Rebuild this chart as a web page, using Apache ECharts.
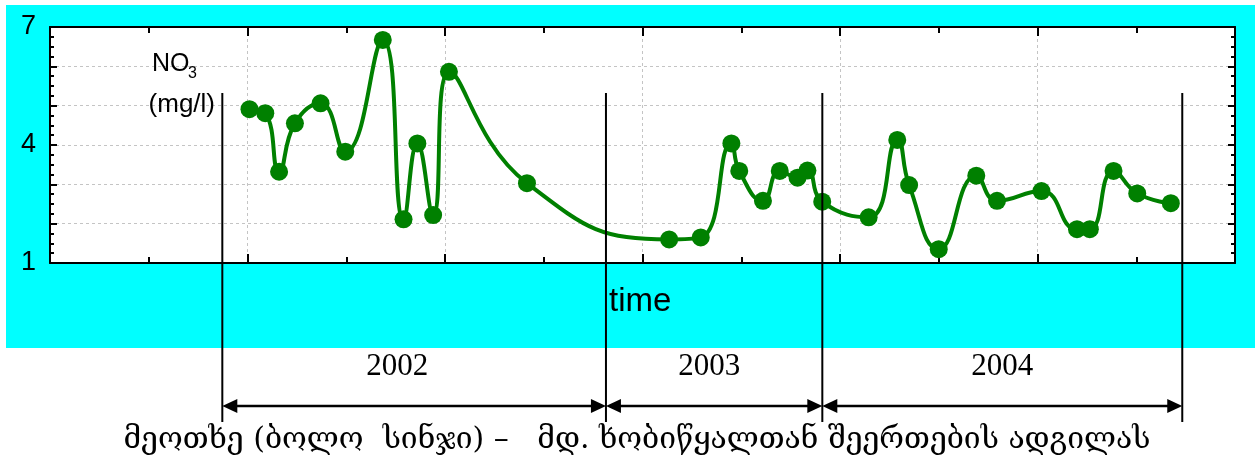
<!DOCTYPE html>
<html>
<head>
<meta charset="utf-8">
<script src="https://cdn.jsdelivr.net/npm/echarts@6.0.0/dist/echarts.min.js"></script>
<style>
html, body { margin: 0; padding: 0; background: #fff; }
#wrap { position: relative; width: 1259px; height: 463px; }
#bg { position: absolute; left: 6px; top: 5px; width: 1249px; height: 343px; background: #00ffff; }
#main { position: absolute; left: 0; top: 0; width: 1259px; height: 463px; }
</style>
</head>
<body>
<div id="wrap"><div id="bg"></div><div id="main"></div></div>
<script>
// sampling time (axis units 0..12) and NO3 concentration, mg/l
const sampleTime = [2.02, 2.18, 2.32, 2.48, 2.74, 2.99, 3.37, 3.58, 3.72, 3.88, 4.04, 4.83,
  6.27, 6.59, 6.90, 6.98, 7.22, 7.39, 7.57, 7.67, 7.82,
  8.29, 8.58, 8.70, 9.00, 9.38, 9.59, 10.04, 10.40, 10.53, 10.77, 11.01, 11.35];
const no3 = [4.91, 4.81, 3.32, 4.55, 5.06, 3.83, 6.67, 2.11, 4.04, 2.22, 5.86, 3.03,
  1.60, 1.65, 4.04, 3.34, 2.58, 3.34, 3.17, 3.35, 2.56,
  2.16, 4.13, 2.98, 1.35, 3.22, 2.58, 2.83, 1.86, 1.86, 3.34, 2.77, 2.52];

// sampling periods (edges in axis units)
const yearEdges = [1.745, 5.63, 7.821, 11.466];
const years = ['2002', '2003', '2004'];
const yLabels = [1, 4, 7];
const caption = 'მეოთხე (ბოლო  სინჯი) –   მდ. ხობიწყალთან შეერთების ადგილას';

const chart = echarts.init(document.getElementById('main'), null, { renderer: 'canvas' });

const gridDash = { show: true, lineStyle: { color: '#c4c4c4', type: [3, 3], width: 1 } };
const black = { color: '#000', width: 2 };

function xAx(pos, grid) {
  return {
    type: 'value', position: pos, min: 0, max: 12, interval: 2,
    axisLine: { show: true, onZero: false, lineStyle: black },
    axisTick: { show: true, inside: true, length: 9, lineStyle: black },
    minorTick: { show: true, splitNumber: 2, length: 6, lineStyle: { color: '#000', width: 2 } },
    axisLabel: { show: false },
    splitLine: grid ? gridDash : { show: false }
  };
}
function yAx(pos, grid) {
  return {
    type: 'value', position: pos, min: 1, max: 7, interval: 1,
    axisLine: { show: true, onZero: false, lineStyle: black },
    axisTick: { show: true, inside: true, length: 7, lineStyle: black },
    minorTick: { show: true, splitNumber: 4, length: 4, lineStyle: { color: '#000', width: 2 } },
    axisLabel: {
      show: grid, margin: 14, color: '#000', fontSize: 27, fontFamily: 'Liberation Sans',
      formatter: v => (yLabels.indexOf(v) >= 0 ? String(v) : '')
    },
    splitLine: grid ? gridDash : { show: false }
  };
}

chart.setOption({
  animation: false,
  backgroundColor: 'transparent',
  grid: { left: 50, right: 24, top: 27, bottom: 200, show: true, backgroundColor: '#fff', borderWidth: 0 },
  xAxis: [xAx('bottom', true), xAx('top', false)],
  yAxis: [yAx('left', true), yAx('right', false)],
  series: [{
    type: 'line',
    data: sampleTime.map((t, i) => [t, no3[i]]),
    smooth: 0.5,
    symbol: 'circle',
    symbolSize: 18,
    itemStyle: { color: '#008000' },
    lineStyle: { color: '#008000', width: 4 },
    z: 5
  }]
});

// year brackets below the plot
const px = yearEdges.map(v => chart.convertToPixel({ xAxisIndex: 0 }, v));
const els = [];
const arrowY = 406;
px.forEach(x => {
  els.push({ type: 'line', z: 100, shape: { x1: x, y1: 93, x2: x, y2: 422 }, style: { stroke: '#000', lineWidth: 2 } });
});
const labelShift = [-17, -5, 0];
years.forEach((yr, i) => {
  const a = px[i], b = px[i + 1];
  els.push({ type: 'line', z: 100, shape: { x1: a + 10, y1: arrowY, x2: b - 10, y2: arrowY }, style: { stroke: '#000', lineWidth: 2.5 } });
  els.push({ type: 'polygon', z: 100, shape: { points: [[a, arrowY], [a + 15, arrowY - 7], [a + 15, arrowY + 7]] }, style: { fill: '#000' } });
  els.push({ type: 'polygon', z: 100, shape: { points: [[b, arrowY], [b - 15, arrowY - 7], [b - 15, arrowY + 7]] }, style: { fill: '#000' } });
  els.push({
    type: 'text', z: 100, x: (a + b) / 2 + labelShift[i], y: 367,
    style: { text: yr, fill: '#000', font: '31px "Liberation Serif"', align: 'center', verticalAlign: 'middle' }
  });
});
els.push({ type: 'text', z: 100, x: 609, y: 302,
  style: { text: 'time', fill: '#000', font: '33px "Liberation Sans"', align: 'left', verticalAlign: 'middle' } });
els.push({ type: 'text', z: 100, x: 152, y: 64,
  style: { text: 'NO', fill: '#000', font: '25px "Liberation Sans"', align: 'left', verticalAlign: 'middle' } });
els.push({ type: 'text', z: 100, x: 188, y: 74,
  style: { text: '3', fill: '#000', font: '16px "Liberation Sans"', align: 'left', verticalAlign: 'middle' } });
els.push({ type: 'text', z: 100, x: 215, y: 105,
  style: { text: '(mg/l)', fill: '#000', font: '26px "Liberation Sans"', align: 'right', verticalAlign: 'middle' } });
els.push({ type: 'text', z: 100, x: 637, y: 440,
  style: { text: caption, fill: '#000', font: '30px "DejaVu Serif"', align: 'center', verticalAlign: 'middle' } });

chart.setOption({ graphic: { elements: els } });
</script>
</body>
</html>
